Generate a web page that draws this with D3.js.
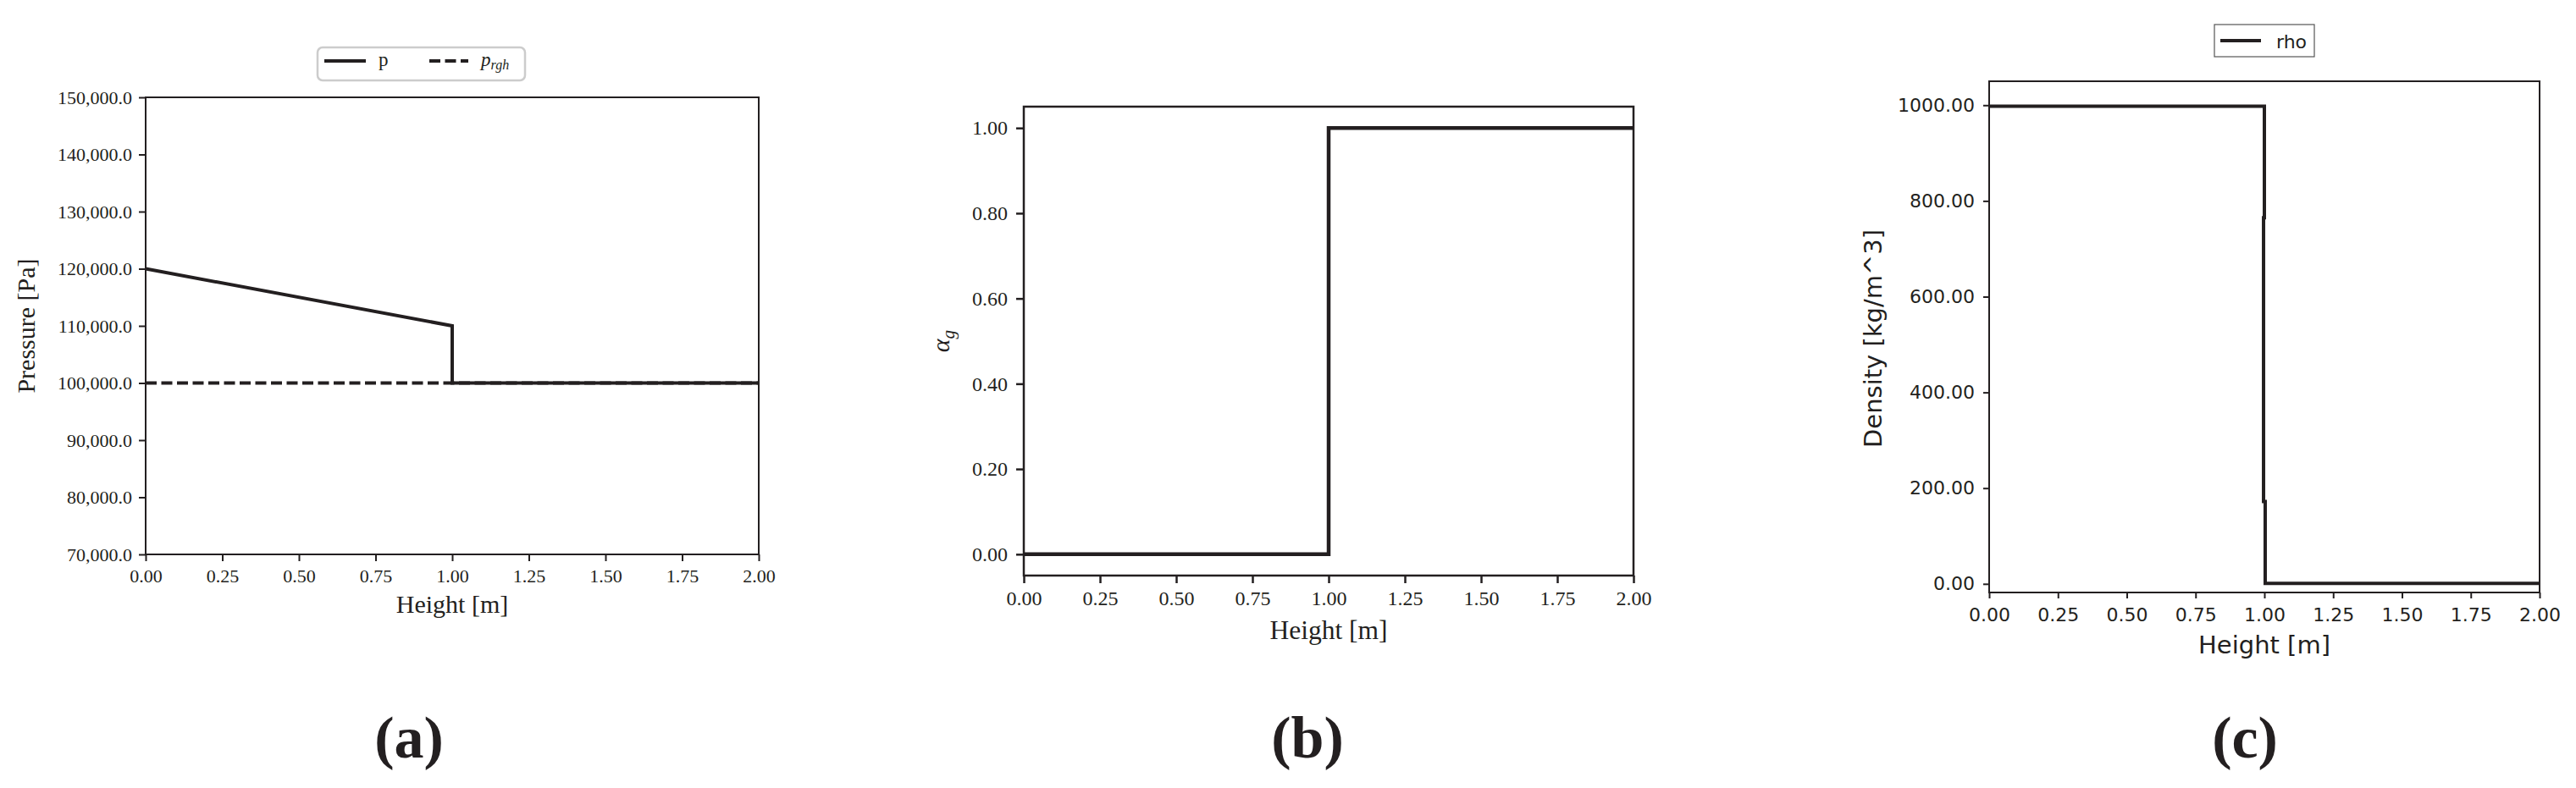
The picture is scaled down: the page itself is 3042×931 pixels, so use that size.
<!DOCTYPE html>
<html>
<head>
<meta charset="utf-8">
<script src="https://cdn.jsdelivr.net/npm/d3@7"></script>
<style>
  body { margin: 0; background: #fff; }
  svg { display: block; }
</style>
</head>
<body>
<div id="fig"></div>
<script>
// three step profiles along the column height: pressure, gas fraction, density

const ink = "#231f20";
const serif = "'Liberation Serif', 'Times New Roman', serif";
const sans = "'DejaVu Sans', sans-serif";

// shared x axis
const heightTicks = [0, 0.25, 0.5, 0.75, 1, 1.25, 1.5, 1.75, 2];

// (a) pressure
const pHeight = [0, 1, 1, 2];
const pValues = [120000, 110000, 100000, 100000];
const prghHeight = [0, 2];
const prghValues = [100000, 100000];
const pressureTicks = [70000, 80000, 90000, 100000, 110000, 120000, 130000, 140000, 150000];

// (b) gas volume fraction
const alphaHeight = [0, 1, 1, 2];
const alphaValues = [0, 0, 1, 1];
const alphaTicks = [0, 0.2, 0.4, 0.6, 0.8, 1];

// (c) density (the small jogs on the interface are in the picture)
const rhoHeight = [0, 1.0, 1.0, 0.997, 0.997, 1.003, 1.003, 2];
const rhoValues = [998, 998, 765, 765, 172, 172, 1, 1];
const rhoTicks = [0, 200, 400, 600, 800, 1000];

const width = 3042, height = 931;

const svg = d3.select("#fig").append("svg")
    .attr("width", width)
    .attr("height", height);

svg.append("rect").attr("width", width).attr("height", height).attr("fill", "#fff");

function zip(xs, ys) {
    return xs.map((x, i) => [x, ys[i]]);
}

function drawPanel(cfg) {
    const x = d3.scaleLinear().domain([0, 2]).range([cfg.left, cfg.right]);
    const y = d3.scaleLinear().domain(cfg.yDomain).range([cfg.bottom, cfg.top]);
    const g = svg.append("g");

    const xAxis = g.append("g")
        .attr("transform", `translate(0,${cfg.bottom})`)
        .call(d3.axisBottom(x).tickValues(heightTicks).tickFormat(d3.format(".2f"))
            .tickSize(cfg.tick).tickPadding(cfg.xPad));
    const yAxis = g.append("g")
        .attr("transform", `translate(${cfg.left},0)`)
        .call(d3.axisLeft(y).tickValues(cfg.yTicks).tickFormat(d3.format(cfg.yFormat))
            .tickSize(cfg.tick).tickPadding(cfg.yPad));

    [xAxis, yAxis].forEach(a => {
        a.select(".domain").remove();
        a.selectAll(".tick line").attr("stroke", ink).attr("stroke-width", cfg.spine);
        a.selectAll(".tick text")
            .attr("fill", ink)
            .style("font-family", cfg.font)
            .style("font-size", cfg.tickFont + "px");
    });

    const line = d3.line().x(d => x(d[0])).y(d => y(d[1]));
    cfg.series.forEach(s => {
        g.append("path")
            .datum(zip(s.x, s.y))
            .attr("d", line)
            .attr("fill", "none")
            .attr("stroke", ink)
            .attr("stroke-width", cfg.lineWidth)
            .attr("stroke-dasharray", s.dash || null);
    });

    g.append("rect")
        .attr("x", cfg.left).attr("y", cfg.top)
        .attr("width", cfg.right - cfg.left).attr("height", cfg.bottom - cfg.top)
        .attr("fill", "none")
        .attr("stroke", ink)
        .attr("stroke-width", cfg.spine);

    g.append("text")
        .attr("x", (cfg.left + cfg.right) / 2)
        .attr("y", cfg.xLabelY)
        .attr("text-anchor", "middle")
        .attr("fill", ink)
        .style("font-family", cfg.font)
        .style("font-size", cfg.xLabelFont + "px")
        .text("Height [m]");

    const yl = g.append("text")
        .attr("transform", `translate(${cfg.yLabelX},${cfg.yLabelMid}) rotate(-90)`)
        .attr("text-anchor", "middle")
        .attr("fill", ink)
        .style("font-family", cfg.font)
        .style("font-size", cfg.yLabelFont + "px");
    cfg.yLabel(yl);

    g.append("text")
        .attr("x", cfg.tag[0])
        .attr("y", 895)
        .attr("text-anchor", "middle")
        .attr("fill", ink)
        .style("font-family", serif)
        .style("font-weight", "bold")
        .style("font-size", "70px")
        .text(cfg.tag[1]);
    return g;
}

// (a)
drawPanel({
    left: 172, right: 896, top: 115, bottom: 655,
    yDomain: [70000, 150000], yTicks: pressureTicks, yFormat: ",.1f",
    tick: 8, xPad: 9, yPad: 8, spine: 2, lineWidth: 4,
    font: serif, tickFont: 22, xLabelFont: 30, yLabelFont: 30,
    xLabelY: 724, yLabelX: 41, yLabelMid: 385,
    yLabel: t => t.text("Pressure [Pa]"),
    tag: [483, "(a)"],
    series: [
        { x: prghHeight, y: prghValues, dash: "13,5.5" },
        { x: pHeight, y: pValues }
    ]
});

// legend (a)
const legA = svg.append("g");
legA.append("rect")
    .attr("x", 375).attr("y", 56).attr("width", 245).attr("height", 39)
    .attr("rx", 6)
    .attr("fill", "#fff").attr("stroke", "#cccccc").attr("stroke-width", 2.5);
legA.append("line")
    .attr("x1", 383).attr("x2", 432).attr("y1", 72).attr("y2", 72)
    .attr("stroke", ink).attr("stroke-width", 4);
legA.append("text")
    .attr("x", 447).attr("y", 78)
    .attr("fill", ink).style("font-family", serif).style("font-size", "23px")
    .text("p");
legA.append("line")
    .attr("x1", 507).attr("x2", 553).attr("y1", 72).attr("y2", 72)
    .attr("stroke", ink).attr("stroke-width", 4).attr("stroke-dasharray", "13,5.5");
const prghText = legA.append("text")
    .attr("x", 568).attr("y", 78)
    .attr("fill", ink).style("font-family", serif).style("font-size", "23px")
    .style("font-style", "italic");
prghText.append("tspan").text("p");
prghText.append("tspan").attr("dy", 4).style("font-size", "16px").text("rgh");

// (b)
drawPanel({
    left: 1209, right: 1929, top: 126, bottom: 680,
    yDomain: [-0.05, 1.05], yTicks: alphaTicks, yFormat: ".2f",
    tick: 9, xPad: 9, yPad: 10, spine: 2.5, lineWidth: 4.5,
    font: serif, tickFont: 24, xLabelFont: 31.5, yLabelFont: 30,
    xLabelY: 755, yLabelX: 1121, yLabelMid: 403,
    yLabel: t => {
        t.style("font-style", "italic");
        t.append("tspan").text("α");
        t.append("tspan").attr("dy", 6).style("font-size", "21px").text("g");
    },
    tag: [1544, "(b)"],
    series: [{ x: alphaHeight, y: alphaValues }]
});

// (c)
drawPanel({
    left: 2349, right: 2999, top: 96, bottom: 700,
    yDomain: [-18, 1050], yTicks: rhoTicks, yFormat: ".2f",
    tick: 7, xPad: 11, yPad: 10, spine: 2, lineWidth: 4,
    font: sans, tickFont: 22, xLabelFont: 29, yLabelFont: 29,
    xLabelY: 772, yLabelX: 2222, yLabelMid: 400,
    yLabel: t => t.text("Density [kg/m^3]"),
    tag: [2651, "(c)"],
    series: [{ x: rhoHeight, y: rhoValues }]
});

// legend (c)
const legC = svg.append("g");
legC.append("rect")
    .attr("x", 2615).attr("y", 29).attr("width", 118).attr("height", 38)
    .attr("fill", "#fff").attr("stroke", "#555").attr("stroke-width", 1.2);
legC.append("line")
    .attr("x1", 2622).attr("x2", 2670).attr("y1", 48).attr("y2", 48)
    .attr("stroke", ink).attr("stroke-width", 4);
legC.append("text")
    .attr("x", 2688).attr("y", 57)
    .attr("fill", ink).style("font-family", sans).style("font-size", "22px")
    .text("rho");
</script>
</body>
</html>
